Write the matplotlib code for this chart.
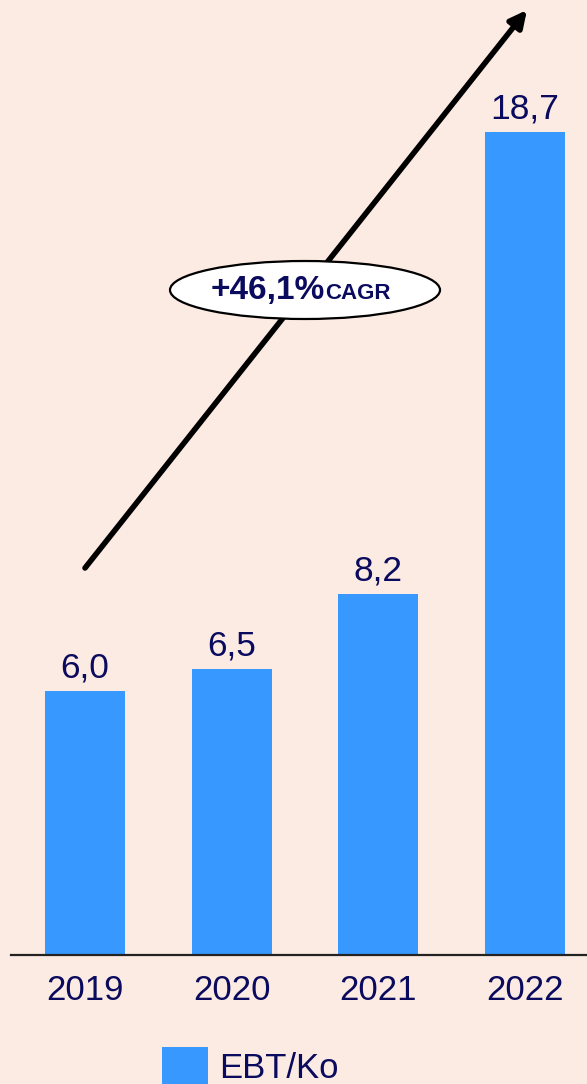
import matplotlib
matplotlib.use("Agg")
import matplotlib.pyplot as plt
from matplotlib.patches import Ellipse

years = ["2019", "2020", "2021", "2022"]
ebt = [6.0, 6.5, 8.2, 18.7]
value_labels = ["6,0", "6,5", "8,2", "18,7"]
series_name = "EBT/Ko"
cagr_text = "+46,1%"
cagr_suffix = "CAGR"

bg = "#fcebe2"
bar_color = "#3799ff"
navy = "#0a0a5e"

plt.rcParams['font.family'] = ['Liberation Sans', 'DejaVu Sans']

W, H = 587, 1084
fig = plt.figure(figsize=(W / 100, H / 100), dpi=100, facecolor=bg)
# axes covers the whole width, bottom at the baseline pixel
base_px = 955
ax = fig.add_axes([0, (H - base_px) / H, 1, base_px / H])
ax.set_facecolor(bg)

step = 146.7
x = list(range(len(years)))
bars = ax.bar(x, ebt, width=80 / step, color=bar_color, label=series_name, zorder=2)
ax.set_xlim(-85 / step, (W - 85) / step)
ax.set_ylim(0, base_px / 44.0)

for xi, v, lab in zip(x, ebt, value_labels):
    ax.annotate(lab, (xi, v), xytext=(0, 10), textcoords="offset points",
                ha="center", va="baseline", fontsize=25.5, color=navy)

for s in ["top", "right", "left", "bottom"]:
    ax.spines[s].set_visible(False)
ax.axhline(0, xmin=11 / W, xmax=1, color="#222222", lw=1.6, zorder=3, clip_on=False)
ax.set_yticks([])
ax.set_xticks(x)
ax.set_xticklabels(years, fontsize=25, color=navy)
ax.tick_params(axis="x", length=0, pad=14)

# growth arrow
ax.annotate("", xy=(527 / W, 1 - 10 / base_px), xytext=(85 / W, 1 - 568 / base_px),
            xycoords="axes fraction", textcoords="axes fraction",
            arrowprops=dict(arrowstyle="-|>,head_length=1.0,head_width=0.5",
                            color="black", lw=4, shrinkA=0, shrinkB=0))

cx, cy = 305 / W, 1 - 290 / base_px
ax.add_patch(Ellipse((cx, cy), 270 / W, 58 / base_px, transform=ax.transAxes,
                     facecolor="white", edgecolor="black", lw=1.6, zorder=5))
ax.text(325 / W, cy, cagr_text, transform=ax.transAxes, ha="right", va="center",
        fontsize=24, fontweight="bold", color=navy, zorder=6)
ax.text(325 / W, cy - 0.004, cagr_suffix, transform=ax.transAxes, ha="left", va="center",
        fontsize=16, fontweight="bold", color=navy, zorder=6)

fig.legend(handles=[bars], labels=[series_name], loc="upper center",
           bbox_to_anchor=(250 / W, 1 - 1030 / H), frameon=False, fontsize=25,
           handlelength=1.35, handleheight=1.3, handletextpad=0.3,
           borderpad=0, labelcolor=navy)

fig.savefig("out.png", dpi=100, facecolor=bg)
